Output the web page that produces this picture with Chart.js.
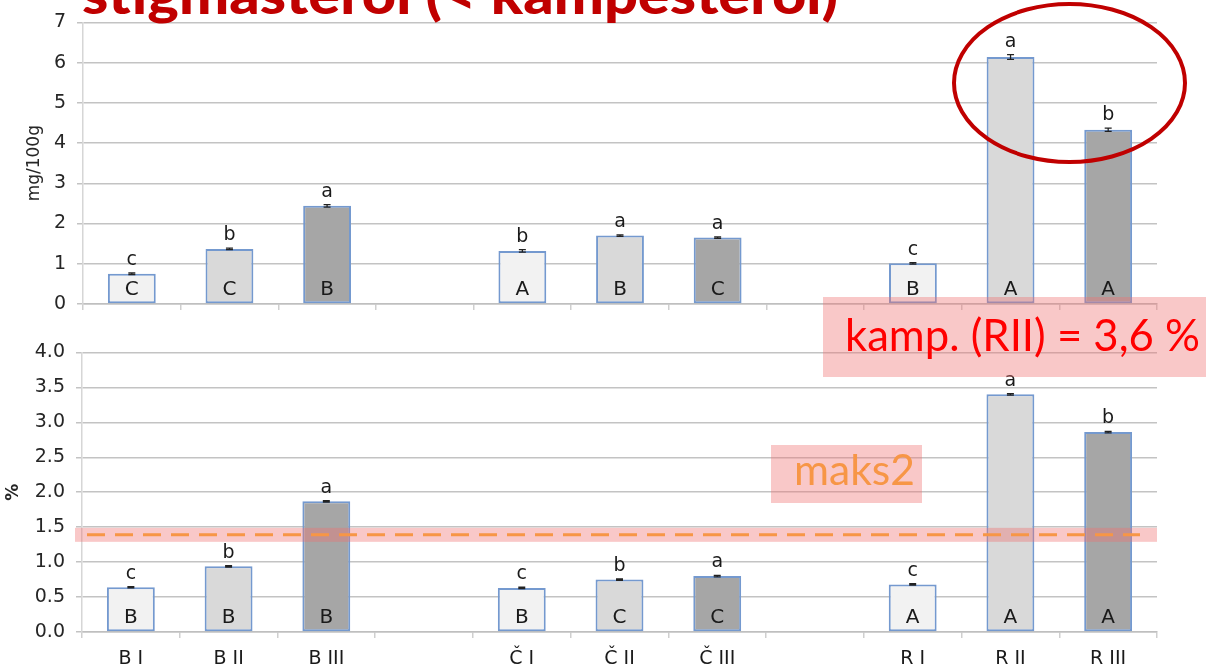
<!DOCTYPE html>
<html>
<head>
<meta charset="utf-8">
<script src="https://cdn.jsdelivr.net/npm/chart.js@4"></script>
<style>
  body { margin: 0; background: #fff; }
  #wrap { position: relative; width: 1206px; height: 667px; overflow: hidden; }
  #wrap canvas { position: absolute; left: 0; }
  #mgChart { top: 0; }
  #pctChart { top: 330px; }
  #notes { position: absolute; left: 0; top: 0; pointer-events: none; }
</style>
</head>
<body>
<div id="wrap">
  <canvas id="mgChart" width="1206" height="330"></canvas>
  <canvas id="pctChart" width="1206" height="337"></canvas>
  <svg id="notes" width="1206" height="667">
    <text x="82" y="14" fill="#c00000" font-family="Lato" font-weight="900" font-size="54"
          textLength="756" lengthAdjust="spacingAndGlyphs">stigmasterol (&lt; kampesterol)</text>
    <ellipse cx="1069.5" cy="83" rx="115.5" ry="79" fill="none" stroke="#c00000" stroke-width="4"/>
    <rect x="823" y="297" width="383" height="80" fill="rgba(240,110,110,0.38)"/>
    <text x="845" y="351" fill="#ff0000" font-family="Lato" font-size="44"
          textLength="355" lengthAdjust="spacingAndGlyphs">kamp. (RII) = 3,6 %</text>
    <rect x="771" y="445" width="151" height="58" fill="rgba(240,110,110,0.38)"/>
    <text x="794" y="485" fill="#f79646" font-family="Lato" font-size="42"
          textLength="121" lengthAdjust="spacingAndGlyphs">maks2</text>
  </svg>
</div>
<script>
// samples: B, Č, R at three levels, empty slots separate the groups
const categories = ['B I', 'B II', 'B III', '', 'Č I', 'Č II', 'Č III', '', 'R I', 'R II', 'R III'];

// stigmasterol, mg/100g
const mgValues = [0.75, 1.37, 2.44, null, 1.32, 1.70, 1.65, null, 1.01, 6.14, 4.33];
const mgErrors = [0.02, 0.02, 0.03, 0, 0.03, 0.02, 0.02, 0, 0.02, 0.06, 0.04];
const mgLower = ['c', 'b', 'a', '', 'b', 'a', 'a', '', 'c', 'a', 'b'];
const mgUpper = ['C', 'C', 'B', '', 'A', 'B', 'C', '', 'B', 'A', 'A'];
const mgTicks = [0, 1, 2, 3, 4, 5, 6, 7];

// stigmasterol, % of sterols
const pctValues = [0.64, 0.94, 1.87, null, 0.63, 0.75, 0.80, null, 0.68, 3.40, 2.86];
const pctErrors = [0.01, 0.01, 0.01, 0, 0.01, 0.01, 0.01, 0, 0.01, 0.01, 0.01];
const pctLower = ['c', 'b', 'a', '', 'c', 'b', 'a', '', 'c', 'a', 'b'];
const pctUpper = ['B', 'B', 'B', '', 'B', 'C', 'C', '', 'A', 'A', 'A'];
const pctTicks = [0, 0.5, 1, 1.5, 2, 2.5, 3, 3.5, 4];

const maks2 = 1.39;

const levelColors = { 'I': '#f2f2f2', 'II': '#d9d9d9', 'III': '#a6a6a6' };
const barColors = categories.map(c => levelColors[c.split(' ')[1]] || 'transparent');

Chart.defaults.font.family = '"DejaVu Sans", sans-serif';
Chart.defaults.font.size = 19;
Chart.defaults.color = '#262626';

// error bars, group letters above the bar, level letters inside it
function letterPlugin(values, errors, lower, upper) {
  return {
    id: 'letters',
    afterDatasetsDraw(chart) {
      const { ctx, scales: { y } } = chart;
      const bars = chart.getDatasetMeta(0).data;
      const base = y.getPixelForValue(0);
      ctx.save();
      values.forEach((v, i) => {
        if (v == null) return;
        const cx = bars[i].x;
        const hi = y.getPixelForValue(v + errors[i]);
        const lo = y.getPixelForValue(v - errors[i]);
        ctx.strokeStyle = '#222';
        ctx.lineWidth = 1.3;
        ctx.beginPath();
        ctx.moveTo(cx, hi); ctx.lineTo(cx, lo);
        ctx.moveTo(cx - 3.5, hi); ctx.lineTo(cx + 3.5, hi);
        ctx.moveTo(cx - 3.5, lo); ctx.lineTo(cx + 3.5, lo);
        ctx.stroke();
        ctx.fillStyle = '#1a1a1a';
        ctx.textAlign = 'center';
        ctx.textBaseline = 'alphabetic';
        ctx.font = '19px "DejaVu Sans"';
        ctx.fillText(lower[i], cx, hi - 8);
        ctx.font = '20px "DejaVu Sans"';
        ctx.fillText(upper[i], cx, base - 9);
      });
      ctx.restore();
    }
  };
}

// limit line with its highlight band
const limitPlugin = {
  id: 'limit',
  afterDatasetsDraw(chart) {
    const { ctx, chartArea: a, scales: { y } } = chart;
    const ly = y.getPixelForValue(maks2);
    ctx.save();
    ctx.fillStyle = 'rgba(240,110,110,0.38)';
    ctx.fillRect(a.left - 7, ly - 7, a.right - a.left + 7, 14);
    ctx.strokeStyle = '#f79646';
    ctx.lineWidth = 3;
    ctx.setLineDash([18, 10]);
    ctx.beginPath();
    ctx.moveTo(a.left + 5, ly);
    ctx.lineTo(a.right - 17, ly);
    ctx.stroke();
    ctx.restore();
  }
};

function makeChart(id, values, opts) {
  return new Chart(document.getElementById(id), {
    type: 'bar',
    data: {
      labels: categories,
      datasets: [{
        data: values,
        backgroundColor: barColors,
        borderColor: '#7499cf',
        borderWidth: 2,
        borderSkipped: false,
        categoryPercentage: 1,
        barPercentage: 0.49
      }]
    },
    options: {
      responsive: false,
      animation: false,
      layout: { padding: { left: 0, right: 49, top: opts.top, bottom: 0 } },
      plugins: { legend: { display: false }, tooltip: { enabled: false } },
      scales: {
        x: {
          grid: { drawOnChartArea: false, tickLength: 6, color: '#cfcfcf', lineWidth: 1.5 },
          border: { color: '#bfbfbf', width: 1.5 },
          ticks: { display: opts.showLabels, padding: 10, color: '#1a1a1a' },
          afterFit: s => { s.height = opts.xHeight; }
        },
        y: {
          min: 0,
          max: opts.max,
          afterBuildTicks: s => { s.ticks = opts.ticks.map(v => ({ value: v })); },
          grid: { color: '#c3c3c3', lineWidth: 1.5, tickLength: 6 },
          border: { color: '#d6d6d6', width: 1.5 },
          ticks: { padding: 11, callback: opts.format },
          title: { display: true, text: opts.title, font: opts.titleFont, padding: { top: opts.titlePad, bottom: 0 } },
          afterFit: s => { s.width = opts.yWidth; }
        }
      }
    },
    plugins: opts.plugins
  });
}

makeChart('mgChart', mgValues, {
  top: 21, max: 7, ticks: mgTicks, xHeight: 26, yWidth: 83, showLabels: false,
  format: v => v, title: 'mg/100g', titleFont: { size: 17 }, titlePad: 24,
  plugins: [letterPlugin(mgValues, mgErrors, mgLower, mgUpper)]
});

makeChart('pctChart', pctValues, {
  top: 19, max: 4, ticks: pctTicks, xHeight: 35, yWidth: 82, showLabels: true,
  format: v => Number(v).toFixed(1), title: '%', titleFont: { size: 17, weight: 'bold' }, titlePad: 3,
  plugins: [letterPlugin(pctValues, pctErrors, pctLower, pctUpper), limitPlugin]
});
</script>
</body>
</html>
